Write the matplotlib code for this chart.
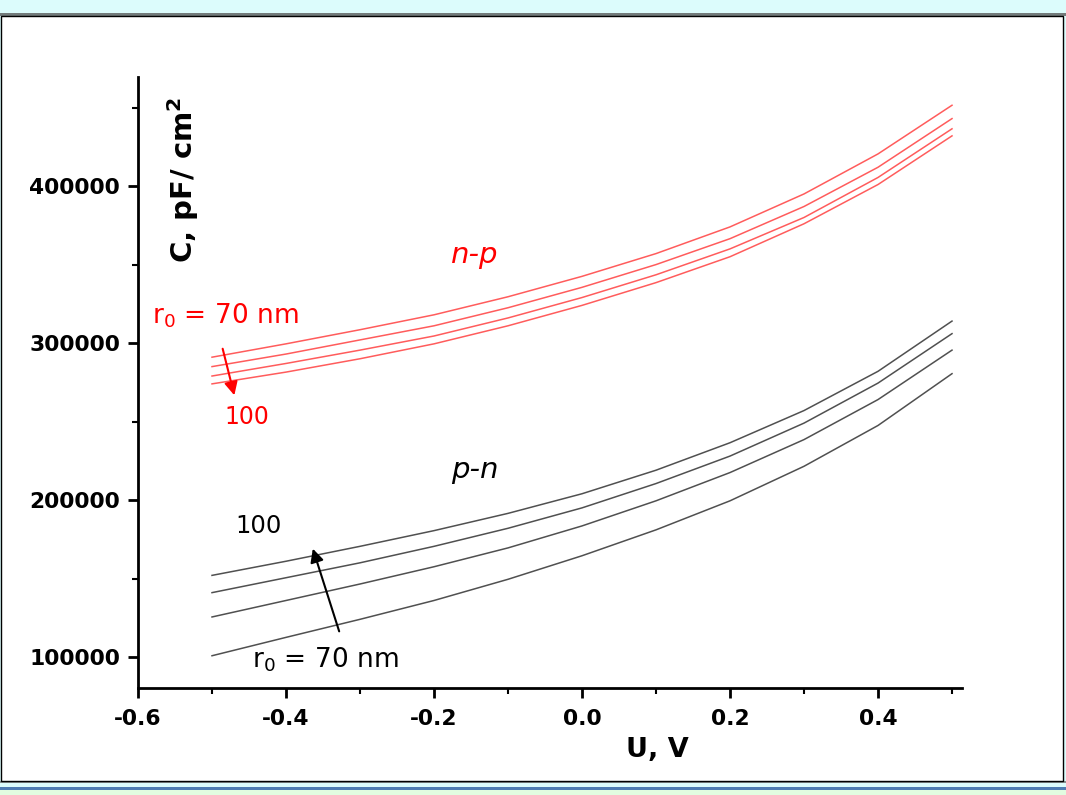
import matplotlib.pyplot as plt
from matplotlib.patches import Rectangle
from matplotlib.ticker import MultipleLocator

# Gerilim (V)
U = [-0.5, -0.4, -0.3, -0.2, -0.1, 0.0, 0.1, 0.2, 0.3, 0.4, 0.5]

# n-p egrileri (pF/cm2), r0 = 70, 80, 90, 100 nm
np_70 = [291000, 299500, 308500, 318000, 329500, 342500, 357000, 374000, 395000, 420500, 451500]
np_80 = [285000, 293000, 302000, 311000, 322500, 335500, 350000, 366500, 387000, 412000, 443000]
np_90 = [279000, 287000, 295500, 304500, 316000, 329000, 343500, 360000, 380000, 405500, 436500]
np_100 = [274000, 281500, 290000, 299500, 311000, 324000, 338500, 355000, 376000, 401000, 432000]

# p-n egrileri
pn_100 = [152000, 161000, 170500, 180500, 191500, 204000, 219000, 236500, 257000, 282000, 314000]
pn_90 = [141000, 150500, 160000, 170500, 182000, 195000, 210500, 228000, 249000, 274500, 306000]
pn_80 = [125500, 136000, 146500, 157500, 169500, 183500, 199500, 217500, 238500, 264000, 295500]
pn_70 = [100800, 112500, 124000, 136000, 149500, 164500, 181000, 199500, 221500, 247500, 280500]

W, H = 1066, 795
fig = plt.figure(figsize=(W / 100, H / 100), dpi=100, facecolor='#dcfcfc')

# slayt cercevesi
def band(y0, y1, color):
    fig.patches.append(Rectangle((0, 1 - y1 / H), 1, (y1 - y0) / H, transform=fig.transFigure,
                                 facecolor=color, edgecolor='none', zorder=-2))

band(790, 795, '#e2fce0')
band(787, 790, '#4f7db3')
band(13, 16, '#737b7b')
band(780.5, 782.5, '#8a9090')
fig.patches.append(Rectangle((0.5 / W, 1 - 781 / H), (W - 4) / W, 765 / H, transform=fig.transFigure,
                             facecolor='white', edgecolor='black', linewidth=1.0, zorder=-1))

ax = fig.add_axes([138 / W, 1 - 688 / H, (962 - 138) / W, (688 - 77) / H])
ax.set_zorder(2)
ax.set_facecolor('none')

for y in [np_70, np_80, np_90, np_100]:
    ax.plot(U, y, color='#ff5c5c', lw=1.1)
for y in [pn_100, pn_90, pn_80, pn_70]:
    ax.plot(U, y, color='#505050', lw=1.1)

ax.set_xlim(-0.6, 0.5135)
ax.set_ylim(80250, 469500)
ax.xaxis.set_minor_locator(MultipleLocator(0.1))
ax.yaxis.set_minor_locator(MultipleLocator(50000))
ax.set_xticks([-0.6, -0.4, -0.2, 0.0, 0.2, 0.4])
ax.set_xticklabels(['-0.6', '-0.4', '-0.2', '0.0', '0.2', '0.4'])
ax.set_yticks([100000, 200000, 300000, 400000])
ax.set_yticklabels(['100000', '200000', '300000', '400000'])

for s in ['top', 'right']:
    ax.spines[s].set_visible(False)
for s in ['left', 'bottom']:
    ax.spines[s].set_linewidth(2.0)
ax.tick_params(which='major', direction='out', length=7, width=2, labelsize=15.7)
ax.tick_params(axis='y', which='major', pad=6)
ax.tick_params(axis='x', which='major', pad=8)
ax.tick_params(which='minor', direction='out', length=4, width=1.5)
for lab in ax.get_xticklabels() + ax.get_yticklabels():
    lab.set_fontweight('bold')

# eksen yazilari
ax.text((183 - 138) / 824, (688 - 180) / 611, 'C, pF/ cm$^\\mathbf{2}$', transform=ax.transAxes,
        rotation=90, fontsize=21, fontweight='bold', ha='center', va='center')
fig.text(657 / W, 1 - 750 / H, 'U, V', fontsize=19.5, fontweight='bold', ha='center', va='center')

# etiketler
ax.text(-0.1446, 356000, 'n-p', color='red', fontsize=21, style='italic', ha='center', va='center')
ax.text(-0.581, 317200, 'r$_0$ = 70 nm', color='red', fontsize=19, ha='left', va='center')
ax.text(-0.4527, 252900, '100', color='red', fontsize=17, ha='center', va='center')
ax.annotate('', xy=(-0.4689, 265000), xytext=(-0.4865, 298100),
            arrowprops=dict(arrowstyle='-|>', color='red', lw=1.5, mutation_scale=20))

ax.text(-0.1446, 219100, 'p-n', color='black', fontsize=21, style='italic', ha='center', va='center')
ax.text(-0.4365, 183400, '100', color='black', fontsize=17.5, ha='center', va='center')
ax.text(-0.4459, 98100, 'r$_0$ = 70 nm', color='black', fontsize=19, ha='left', va='center')
ax.annotate('', xy=(-0.3649, 170700), xytext=(-0.327, 114650),
            arrowprops=dict(arrowstyle='-|>', color='black', lw=1.5, mutation_scale=20))

plt.savefig('out.png', dpi=100, facecolor=fig.get_facecolor())
